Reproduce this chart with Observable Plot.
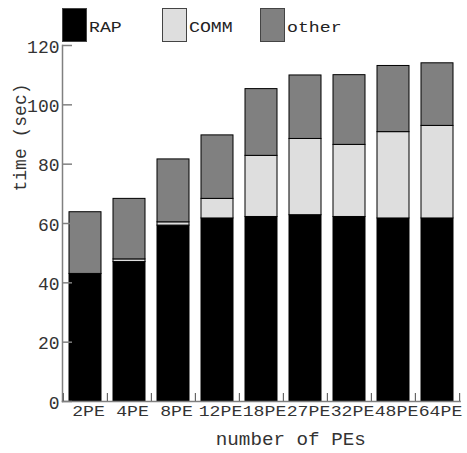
<!DOCTYPE html>
<html>
<head>
<meta charset="utf-8">
<script src="https://cdn.jsdelivr.net/npm/d3@7"></script>
<script src="https://cdn.jsdelivr.net/npm/@observablehq/plot@0.6"></script>
<style>
  html, body { margin: 0; padding: 0; background: #fff; }
  #wrap { position: relative; width: 467px; height: 453px; }
  #legend { position: absolute; left: 0; top: 0; width: 467px; height: 45px; }
  .lbox { position: absolute; top: 8px; width: 23px; height: 32px; border: 1px solid #444; }
  .ltxt { position: absolute; top: 20px; font-family: "Liberation Mono", "Courier New", monospace; font-size: 14px; line-height: 16px; transform-origin: 0 0; transform: scaleX(1.3); color: #222; white-space: nowrap; }
  svg { font-family: "Liberation Mono", "Courier New", monospace; }
</style>
</head>
<body>
<div id="wrap"><div id="legend"></div></div>
<script>
const categories = ["2PE", "4PE", "8PE", "12PE", "18PE", "27PE", "32PE", "48PE", "64PE"];
const series = ["RAP", "COMM", "other"];
const colors = ["#000000", "#dedede", "#808080"];
const rap   = [43.0, 47.0, 59.3, 61.7, 62.2, 62.8, 62.2, 61.7, 61.7];
const comm  = [0.0, 0.9, 1.1, 6.6, 20.6, 25.7, 24.3, 29.1, 31.2];
const other = [20.8, 20.4, 21.2, 21.4, 22.5, 21.4, 23.5, 22.3, 21.1];
const yTicks = [0, 20, 40, 60, 80, 100, 120];
const xTitle = "number of PEs";
const yTitle = "time (sec)";

const valuesBySeries = [rap, comm, other];
const table = [];
series.forEach((s, si) => {
  categories.forEach((c, ci) => table.push({pe: c, series: s, value: valuesBySeries[si][ci]}));
});

const W = 467, H = 453;
const mL = 62, mR = 7.4, mT = 45, mB = 52;
const frameW = W - mL - mR, frameH = H - mT - mB;
const step = frameW / categories.length;

const plot = Plot.plot({
  width: W, height: H,
  marginLeft: mL, marginRight: mR, marginTop: mT, marginBottom: mB,
  x: {type: "band", domain: categories, paddingInner: 0.28, paddingOuter: 0.14, axis: null},
  y: {domain: [0, 120], axis: null},
  color: {domain: series, range: colors},
  marks: [
    Plot.barY(table, {x: "pe", y: "value", fill: "series", stroke: "#000", strokeWidth: 1, order: series}),
    Plot.frame({anchor: "left", stroke: "#808080", strokeWidth: 1.5}),
    Plot.frame({anchor: "bottom", stroke: "#808080", strokeWidth: 1.5}),
    Plot.tickY(yTicks, {y: d => d, insetRight: frameW - 10, stroke: "#808080", strokeWidth: 1.5}),
    Plot.tickX(categories, {x: d => d, dx: -step / 2, insetTop: frameH - 8, stroke: "#666", strokeWidth: 1.2}),
    Plot.tickX(categories.slice(-1), {x: d => d, dx: step / 2, insetTop: frameH - 8, stroke: "#666", strokeWidth: 1.2}),
    Plot.text(yTicks, {y: d => d, text: d => String(d), frameAnchor: "left", textAnchor: "end", dx: -3, dy: 1.5, fontSize: 18, fill: "#333"}),
    Plot.text(categories, {x: d => d, text: d => d, frameAnchor: "bottom", dy: 14.5, dx: 3, fontSize: 14, fill: "#333"}),
    Plot.text([xTitle], {text: d => d, frameAnchor: "bottom", dx: 29.5, dy: 43, fontSize: 18, fill: "#333"}),
    Plot.text([yTitle], {text: d => d, frameAnchor: "left", dx: -42, dy: -32, rotate: -90, fontSize: 18, fill: "#333"})
  ]
});

document.getElementById("wrap").appendChild(plot);

// stretch x tick labels horizontally like the reference
plot.querySelectorAll("text").forEach(t => {
  const s = t.textContent;
  if (categories.includes(s)) {
    t.setAttribute("textLength", s.length * 10.9);
    t.setAttribute("lengthAdjust", "spacingAndGlyphs");
  } else if (s === xTitle) {
    t.setAttribute("textLength", 150);
    t.setAttribute("lengthAdjust", "spacingAndGlyphs");
  }
});

// legend
const legend = document.getElementById("legend");
const legendX = [62, 161.7, 260.3];
series.forEach((s, i) => {
  const b = document.createElement("div");
  b.className = "lbox";
  b.style.left = legendX[i] + "px";
  b.style.background = colors[i];
  legend.appendChild(b);
  const t = document.createElement("div");
  t.className = "ltxt";
  t.style.left = (legendX[i] + 27) + "px";
  t.textContent = s;
  legend.appendChild(t);
});
</script>
</body>
</html>
